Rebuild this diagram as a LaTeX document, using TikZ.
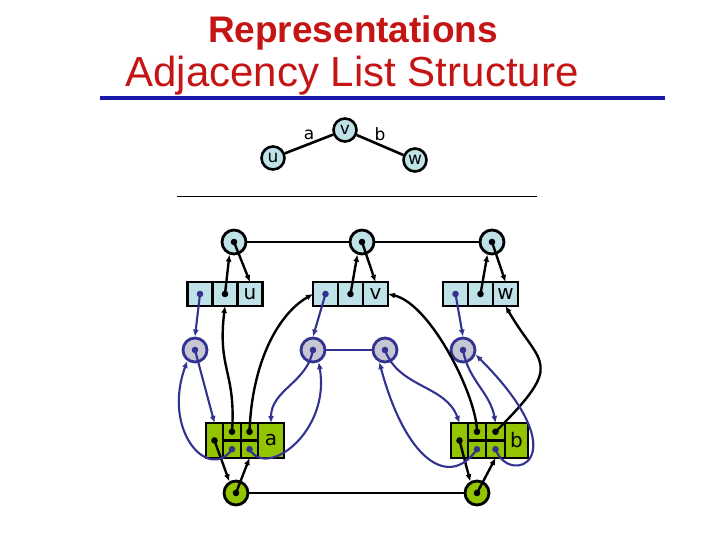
\documentclass[tikz,border=0pt]{standalone}
\usepackage{fontspec}
\setmainfont{DejaVu Sans}
\newfontfamily\titlefont{Liberation Sans}
\usetikzlibrary{arrows.meta}
\definecolor{cellblue}{RGB}{190,226,232}
\definecolor{slotgrey}{RGB}{198,198,212}
\definecolor{listnavy}{RGB}{50,50,145}
\definecolor{edgegreen}{RGB}{146,196,0}
\definecolor{titlered}{RGB}{196,20,20}
\definecolor{rulenavy}{RGB}{24,24,170}

\begin{document}
\begin{tikzpicture}[
  x=1pt,y=1pt,
  vertex/.style={draw,circle,line width=2.6pt,fill=cellblue,minimum size=23pt,inner sep=0pt,font=\fontsize{17}{17}\selectfont},
  posnode/.style={draw,circle,line width=2.8pt,fill=cellblue,minimum size=24pt,inner sep=0pt},
  slot/.style={draw=listnavy,circle,line width=2.8pt,fill=slotgrey,minimum size=24pt,inner sep=0pt},
  epos/.style={draw,circle,line width=2.8pt,fill=edgegreen,minimum size=24pt,inner sep=0pt},
  cell/.style={draw,line width=2.8pt,fill=cellblue,minimum width=25pt,minimum height=24pt,inner sep=0pt,outer sep=0pt,font=\fontsize{20}{20}\selectfont},
  ecell/.style={draw,line width=2.8pt,fill=edgegreen,minimum height=17.5pt,inner sep=0pt,outer sep=0pt,font=\fontsize{20}{20}\selectfont},
  link/.style={line width=2.6pt},
  ptr/.style={-{Latex[length=7pt,width=6pt]},line width=2.4pt},
  nptr/.style={-{Latex[length=7pt,width=6pt]},line width=2.1pt,draw=listnavy}
]
  \useasboundingbox (0,0) rectangle (720,-540);

  % title
  \node[font=\titlefont\bfseries\fontsize{37}{37}\selectfont,text=titlered,anchor=base] (title) at (353,-43) {Representations};
  \node[font=\titlefont\fontsize{42}{42}\selectfont,text=titlered,anchor=base] (subtitle) at (352,-87) {Adjacency List Structure};
  \draw[rulenavy,line width=3.2pt] (100,-98) -- (665,-98);

  % the graph
  \node[vertex] (u) at (273,-158) {u};
  \node[vertex] (v) at (345,-130) {v};
  \node[vertex] (w) at (415,-160) {w};
  \draw[link] (u) -- node[above,font=\fontsize{17}{17}\selectfont] {a} (v);
  \draw[link] (v) -- node[above,font=\fontsize{17}{17}\selectfont] {b} (w);
  \draw[line width=0.9pt] (177,-196) -- (537,-196);

  % vertex sequence
  \node[posnode] (pu) at (234,-242) {};
  \node[posnode] (pv) at (362,-242) {};
  \node[posnode] (pw) at (492,-242) {};
  \node[cell] (u1) at (200,-294) {};
  \node[cell] (u2) at (225,-294) {};
  \node[cell] (u3) at (250,-294) {u};
  \node[cell] (v1) at (325.5,-294) {};
  \node[cell] (v2) at (350.5,-294) {};
  \node[cell] (v3) at (375.5,-294) {v};
  \node[cell] (w1) at (455.5,-294) {};
  \node[cell] (w2) at (480.5,-294) {};
  \node[cell] (w3) at (505.5,-294) {w};

  % incidence lists
  \node[slot] (iu) at (195,-350) {};
  \node[slot] (iv1) at (313,-350) {};
  \node[slot] (iv2) at (385,-350) {};
  \node[slot] (iw) at (463,-350) {};

  % edge sequence
  \node[ecell,minimum width=17pt,minimum height=35pt] (a1) at (214.5,-440.5) {};
  \node[ecell,minimum width=18pt] (a2t) at (232,-431.75) {};
  \node[ecell,minimum width=18pt] (a2b) at (232,-449.25) {};
  \node[ecell,minimum width=17pt] (a3t) at (249.5,-431.75) {};
  \node[ecell,minimum width=17pt] (a3b) at (249.5,-449.25) {};
  \node[ecell,minimum width=26pt,minimum height=35pt] (a4) at (271,-440.5) {a};
  \node[ecell,minimum width=17pt,minimum height=35pt] (b1) at (459.5,-440.5) {};
  \node[ecell,minimum width=18pt] (b2t) at (477,-431.75) {};
  \node[ecell,minimum width=18pt] (b2b) at (477,-449.25) {};
  \node[ecell,minimum width=19pt] (b3t) at (495.5,-431.75) {};
  \node[ecell,minimum width=19pt] (b3b) at (495.5,-449.25) {};
  \node[ecell,minimum width=23pt,minimum height=35pt] (b4) at (516.5,-440.5) {b};
  \node[epos] (pa) at (236,-493) {};
  \node[epos] (pb) at (477,-493) {};

  % black links
  \draw[link] (pu) -- (pv) -- (pw);
  \draw[link] (pa) -- (pb);
  \foreach \x in {u,v,w} {
    \draw[ptr] (p\x.center) -- (\x3.north);
    \draw[ptr] (\x2.center) -- (p\x.250);
  }
  \draw[ptr] (a2t.center) to[out=86,in=263,out distance=60pt,in distance=64pt] (u2.south);
  \draw[ptr] (a3t.center) to[out=88,in=210,out distance=70pt,in distance=40pt] (v1.west);
  \draw[ptr] (b2t.center) to[out=90,in=347,out distance=35pt,in distance=44pt] (v3.east);
  \draw[ptr] (b3t.center) to[out=45,in=300,out distance=100pt,in distance=70pt] (w3.south);
  \draw[ptr] (a1.center) -- (pa.120);
  \draw[ptr] (pa.center) -- (a3b.south);
  \draw[ptr] (b1.center) -- (pb.120);
  \draw[ptr] (pb.center) -- (b3b.south);

  % navy links
  \draw[nptr,-] (iv1) -- (iv2);
  \draw[nptr] (u1.center) -- (iu.north);
  \draw[nptr] (v1.center) -- (iv1.north);
  \draw[nptr] (w1.center) -- (iw.north);
  \draw[nptr] (iu.center) -- (a1.north);
  \draw[nptr] (a2b.center) to[out=235,in=250,out distance=40pt,in distance=75pt] (iu.235);
  \draw[nptr] (a3b.center) to[out=300,in=280,out distance=35pt,in distance=70pt] (iv1.295);
  \draw[nptr] (iv1.center) to[out=260,in=90] (a4.north);
  \draw[nptr] (iv2.center) to[out=290,in=110] (b1.north);
  \draw[nptr] (b2b.center) to[out=235,in=285,out distance=50pt,in distance=100pt] (iv2.245);
  \draw[nptr] (iw.center) to[out=280,in=100] (b3t.north);
  \draw[nptr] (b3b.center) to[out=290,in=315,out distance=40pt,in distance=150pt] (iw.340);

  % dots
  \foreach \d in {pu,pv,pw,u2,v2,w2,a1,a2t,a3t,b1,b2t,b3t,pa,pb}
    \fill (\d.center) circle (3.3pt);
  \foreach \d in {u1,v1,w1,iu,iv1,iv2,iw,a2b,a3b,b2b,b3b}
    \fill[listnavy] (\d.center) circle (3.3pt);
\end{tikzpicture}
\end{document}
